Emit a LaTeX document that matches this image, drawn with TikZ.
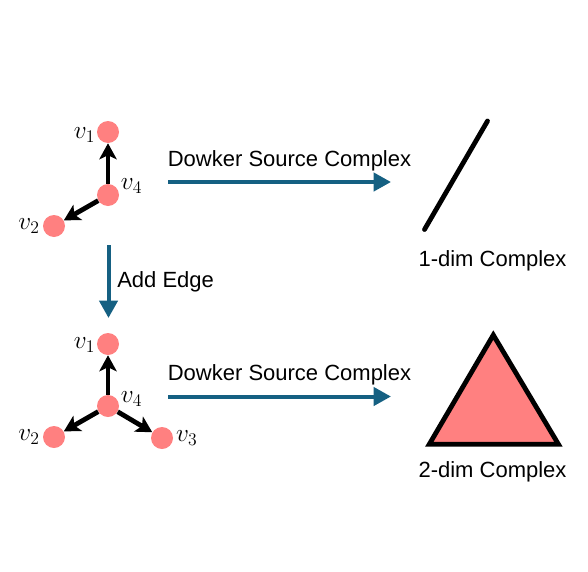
\RequirePackage{fix-cm}
\documentclass[tikz,border=0pt]{standalone}
\usepackage{fontspec}
\setmainfont{Liberation Sans}
\usepackage{tikz}
\usetikzlibrary{positioning,calc}
\usetikzlibrary{arrows.meta}
\definecolor{NodePink}{RGB}{255,128,128}
\definecolor{FlowTeal}{RGB}{21,96,130}
\tikzset{
  vert/.style={circle,fill=NodePink,inner sep=0pt,minimum size=16.5pt},
  vlab/.style={inner sep=1pt,font=\fontsize{19}{22}\selectfont},
  dir/.style={draw=black,line width=3.6pt,-{Stealth[length=12pt,width=13pt,inset=3pt]}},
  flow/.style={draw=FlowTeal,line width=3pt,-{Triangle[length=13pt,width=13.5pt]}},
}
\tikzset{txt/.style={font=\fontsize{16.5}{20}\selectfont,inner sep=0pt}, simplex/.style={draw=black,line width=3.6pt}}

\begin{document}
\begin{tikzpicture}[x=0.75pt,y=-0.75pt]
\useasboundingbox (0,0) rectangle (588,571);
\node[vert] (ta) at (108,132) {};
\node[vert] (td) at (108,195) {};
\node[vert] (tb) at (54,226) {};
\draw[dir] (td)--(ta);
\draw[dir] (td)--(tb);
\node[vlab,left=0pt of ta,yshift=-2pt] (tla) {$v_1$};
\node[vlab,right=0pt of td,yshift=7pt] (tld) {$v_4$};
\node[vlab,left=1pt of tb] (tlb) {$v_2$};
\node[vert] (ba) at (108,344) {};
\node[vert] (bd) at (108,406) {};
\node[vert] (bb) at (54,437) {};
\node[vert] (bc) at (162,438) {};
\draw[dir] (bd)--(ba);
\draw[dir] (bd)--(bb);
\draw[dir] (bd)--(bc);
\node[vlab,left=0pt of ba,yshift=-1pt] (bla) {$v_1$};
\node[vlab,right=0pt of bd,yshift=5pt] (bld) {$v_4$};
\node[vlab,left=1pt of bb] (blb) {$v_2$};
\node[vlab,right=1pt of bc] (blc) {$v_3$};
\coordinate (ts) at (168,182);
\coordinate (te) at (391,182);
\coordinate (bs) at (168,396.5);
\coordinate (be) at (391,396.5);
\coordinate (ms) at (108.5,245);
\coordinate (me) at (108.5,318);
\draw[flow] (ts)--(te);
\draw[flow] (bs)--(be);
\draw[flow] (ms)--(me);
\node[txt,anchor=base] (tt) at (289.5,166) {Dowker Source Complex};
\node[txt,anchor=base] (bt) at (289.5,380) {Dowker Source Complex};
\node[txt,anchor=base west] (mt) at (117,287) {Add Edge};
\coordinate (la) at (487.5,121);
\coordinate (lb) at (424.5,229.5);
\draw[simplex,line cap=round] (la)--(lb);
\node[txt,anchor=base] (lt) at (492.5,266) {1-dim Complex};
\coordinate (fa) at (493.3,335);
\coordinate (fb) at (429.3,444.2);
\coordinate (fc) at (558.4,444.2);
\draw[simplex,fill=NodePink] (fa)--(fb)--(fc)--cycle;
\node[txt,anchor=base] (ft) at (492.5,477) {2-dim Complex};
\end{tikzpicture}
\end{document}
